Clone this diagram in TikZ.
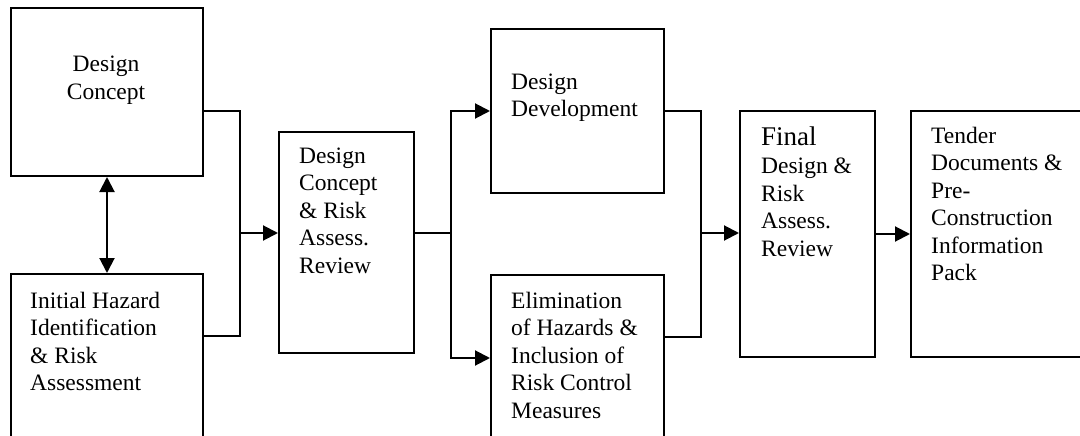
\documentclass[tikz,border=0pt]{standalone}
\usepackage{fontspec}
\setmainfont{Liberation Serif}
\usetikzlibrary{arrows.meta}
\newcommand\lblL[1]{\begin{tabular}[t]{@{}l@{}}#1\end{tabular}}
\newcommand\lblC[1]{\begin{tabular}[t]{@{}c@{}}#1\end{tabular}}
\tikzset{
  box/.style={draw, line width=2pt, anchor=north west, inner sep=0pt, fill=white},
  conn/.style={line width=2pt},
  thin conn/.style={line width=1.3pt},
  arr/.style={line width=2pt, -{Triangle[length=15pt,width=15pt]}},
  darr/.style={line width=2pt, {Triangle[length=15pt,width=15pt]}-{Triangle[length=15pt,width=15pt]}},
  lbl/.style={inner sep=0pt, font=\fontsize{23.5}{27.6}\selectfont}
}
\begin{document}
\begin{tikzpicture}[x=1pt,y=-1pt]
\useasboundingbox (0,0) rectangle (1080,436);
\clip (0,0) rectangle (1080,436);
\fill[white] (0,0) rectangle (1080,436);
% boxes
\node[box, minimum width=192pt, minimum height=168pt] (dc) at (10,7) {};
\node[box, minimum width=192pt, minimum height=190pt] (ih) at (10,273) {};
\node[box, minimum width=135pt, minimum height=221pt] (dcr) at (278,131) {};
\node[box, minimum width=173pt, minimum height=164pt] (dd) at (490,28) {};
\node[box, minimum width=173pt, minimum height=190pt] (el) at (490,274) {};
\node[box, minimum width=135pt, minimum height=246pt] (fd) at (739,110) {};
\node[box, minimum width=190pt, minimum height=246pt] (td) at (910,110) {};
% labels
\node[lbl, anchor=base] (tdc) at (106,72) {\lblC{Design\\Concept}};
\node[lbl, anchor=base west] (tih) at (30,308) {\lblL{Initial Hazard\\Identification\\\& Risk\\Assessment}};
\node[lbl, anchor=base west] (tdcr) at (299,163) {\lblL{Design\\Concept\\\& Risk\\Assess.\\Review}};
\node[lbl, anchor=base west] (tdd) at (511,89) {\lblL{Design\\Development}};
\node[lbl, anchor=base west] (tel) at (511,308) {\lblL{Elimination\\of Hazards \&\\Inclusion of\\Risk Control\\Measures}};
\node[lbl, anchor=base west] (tfd) at (761,146) {\lblL{{\fontsize{27}{27.6}\selectfont Final}\\Design \&\\Risk\\Assess.\\Review}};
\node[lbl, anchor=base west] (ttd) at (931,143) {\lblL{Tender\\Documents \&\\Pre-\\Construction\\Information\\Pack}};
% junctions
\coordinate (j1) at (240,233);
\coordinate (j2) at (451,233);
\coordinate (j3) at (701,233);
% connectors
\draw[darr] (dc.south) -- (ih.north);
\draw[conn] ([yshift=-19pt]dc.east) -| (j1) |- ([yshift=33pt]ih.east);
\draw[arr] (j1) -- (dcr.west |- j1);
\draw[thin conn] (dcr.east |- j2) -- (j2);
\draw[arr] (j2) |- (dd.west);
\draw[arr] (j2) |- ([yshift=12pt]el.west);
\draw[conn] (dd.east) -| (j3) |- ([yshift=33pt]el.east);
\draw[arr] (j3) -- (fd.west |- j3);
\draw[arr] (fd.east) -- (td.west);
\end{tikzpicture}
\end{document}
